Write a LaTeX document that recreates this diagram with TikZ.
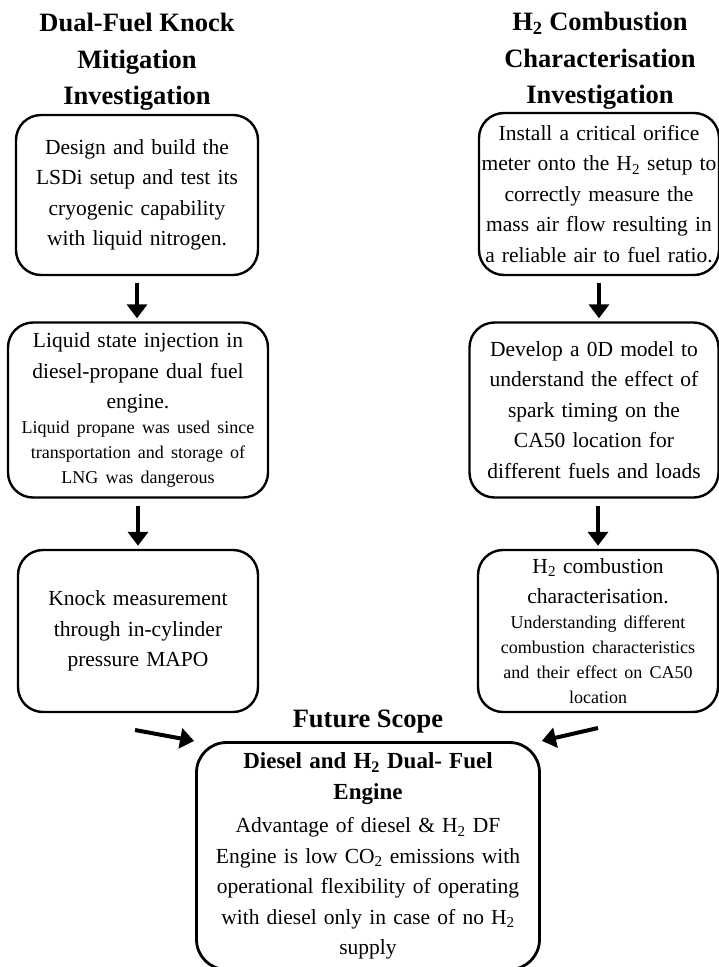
\documentclass[tikz,border=0pt]{standalone}
\usepackage{fontspec}
\setmainfont{Liberation Serif}
\usetikzlibrary{arrows.meta}

\newcommand{\mainsize}{\fontsize{21.5}{30.5}\selectfont}
\newcommand{\notesize}{\fontsize{18}{25}\selectfont}

\tikzstyle{stage}=[draw,rounded corners=25pt,line width=2.4pt,align=center,inner sep=2pt,font=\mainsize]
\tikzstyle{heading}=[align=center,font=\fontsize{26.5}{36.5}\selectfont\bfseries]
\tikzstyle{flow}=[line width=4pt,-{Triangle[width=20pt,length=14pt]},shorten <=7pt,shorten >=3pt]

\begin{document}
\begin{tikzpicture}[x=1pt,y=-1pt]
		\useasboundingbox (0,0) rectangle (719,967);
		% headings
		\node[heading] (t-knock) at (137,62) {Dual-Fuel Knock\\Mitigation\\Investigation};
		\node[heading] (t-h2) at (600,61) {H\textsubscript{2} Combustion\\Characterisation\\Investigation};
		\node[heading] (t-future) at (368,722) {Future Scope};
		% left column
		\node[stage,minimum width=242pt,minimum height=160pt,text width=236pt] (design) at (137,195)
			{Design and build the\\LSDi setup and test its\\cryogenic capability\\with liquid nitrogen.};
		\node[stage,minimum width=260pt,minimum height=175pt,text width=254pt] (lsi) at (138,410)
			{Liquid state injection in\\diesel-propane dual fuel\\engine.\par
			{\notesize\centering Liquid propane was used since\\transportation and storage of\\LNG was dangerous\par}};
		\node[stage,minimum width=240pt,minimum height=162pt,text width=234pt] (knock) at (138,631)
			{Knock measurement\\through in-cylinder\\pressure MAPO};
		% right column
		\node[stage,minimum width=238pt,minimum height=162pt,text width=236pt] (orifice) at (599,194)
			{Install a critical orifice\\meter onto the H\textsubscript{2} setup to\\correctly measure the\\mass air flow resulting in\\a reliable air to fuel ratio.};
		\node[stage,minimum width=249pt,minimum height=175pt,text width=243pt] (model) at (594,410)
			{Develop a 0D model to\\understand the effect of\\spark timing on the\\CA50 location for\\different fuels and loads};
		\node[stage,minimum width=240pt,minimum height=162pt,text width=234pt] (h2comb) at (598,631)
			{H\textsubscript{2} combustion\\characterisation.\par
			{\notesize\centering Understanding different\\combustion characteristics\\and their effect on CA50\\location\par}};
		% future scope
		\node[stage,rounded corners=30pt,line width=2.8pt,minimum width=343pt,minimum height=227pt,text width=337pt] (future) at (368,856)
			{{\fontsize{23}{31}\selectfont\bfseries Diesel and H\textsubscript{2} Dual- Fuel\\Engine\par}\vspace{3pt}
			Advantage of diesel \& H\textsubscript{2} DF\\Engine is low CO\textsubscript{2} emissions with\\operational flexibility of operating\\with diesel only in case of no H\textsubscript{2}\\supply};
		\coordinate (l-in) at (135,730);
		\coordinate (r-in) at (598,728);
		% arrows
		\draw[flow] (design.south) -- (design.south |- lsi.north);
		\draw[flow] (lsi.south) -- (lsi.south |- knock.north);
		\draw[flow] (orifice.south) -- (orifice.south |- model.north);
		\draw[flow] (h2comb.north |- model.south) -- (h2comb.north);
		\draw[flow,shorten <=0pt,shorten >=1pt] (l-in) -- (future.north west);
		\draw[flow,shorten <=0pt,shorten >=1pt] (r-in) -- (future.north east);
\end{tikzpicture}
\end{document}
